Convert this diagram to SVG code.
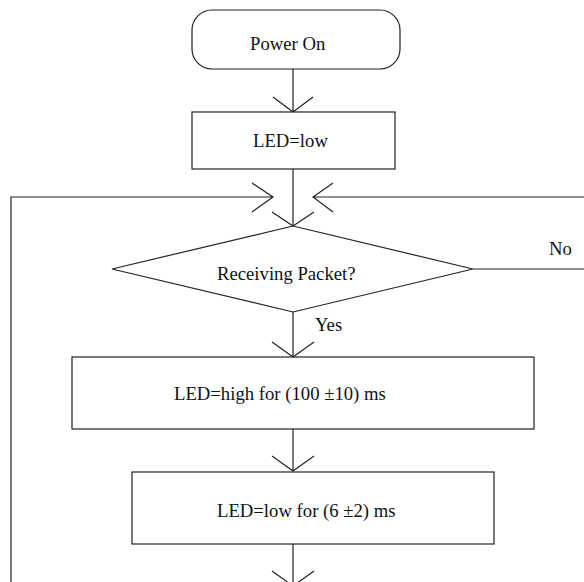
<svg xmlns="http://www.w3.org/2000/svg" width="584" height="582" viewBox="0 0 584 582">
  <style>
    .shape { fill: #fff; stroke: #222; stroke-width: 1.2; }
    .line { fill: none; stroke: #222; stroke-width: 1.2; }
    .lbl { font-family: "Liberation Serif", "Times New Roman", serif; font-size: 18.7px; fill: #111; }
  </style>
  <rect width="584" height="582" fill="#fff"/>
  <g id="connectors">
    <!-- Power On -> LED=low -->
    <path class="line" d="M293 69 V112 M273 97 L293 112 L313 97"/>
    <!-- LED=low -> decision -->
    <path class="line" d="M293 169 V226 M272 212 L293 226 L314 212"/>
    <!-- loop back left -->
    <path class="line" d="M11 582 V197 H273 M252 183 L273 197 L252 212"/>
    <!-- No branch -->
    <path class="line" d="M473 269 H584"/>
    <path class="line" d="M584 197 H313 M333 183 L313 197 L333 212"/>
    <!-- Yes -->
    <path class="line" d="M293 312 V357 M272 342 L293 357 L314 342"/>
    <!-- high -> low -->
    <path class="line" d="M293 429 V471 M272 456 L293 471 L314 456"/>
    <!-- low -> out -->
    <path class="line" d="M293 544 V586 M272 571 L293 586 L314 571"/>
    <text class="lbl" x="549" y="255">No</text>
    <text class="lbl" x="315" y="331">Yes</text>
  </g>
  <g id="power-on">
    <rect class="shape" x="192" y="10" width="208" height="59" rx="20" ry="20"/>
    <text class="lbl" x="250" y="50">Power On</text>
  </g>
  <g id="led-low-init">
    <rect class="shape" x="192" y="112" width="203" height="57"/>
    <text class="lbl" x="253" y="147">LED=low</text>
  </g>
  <g id="receiving-packet">
    <polygon class="shape" points="293,226 473,269 293,312 112,269"/>
    <text class="lbl" x="217" y="280">Receiving Packet?</text>
  </g>
  <g id="led-high">
    <rect class="shape" x="72" y="357" width="462" height="72"/>
    <text class="lbl" x="174" y="400">LED=high for (100 ±10) ms</text>
  </g>
  <g id="led-low-delay">
    <rect class="shape" x="132" y="472" width="362" height="72"/>
    <text class="lbl" x="217" y="517">LED=low for (6 ±2) ms</text>
  </g>
</svg>
